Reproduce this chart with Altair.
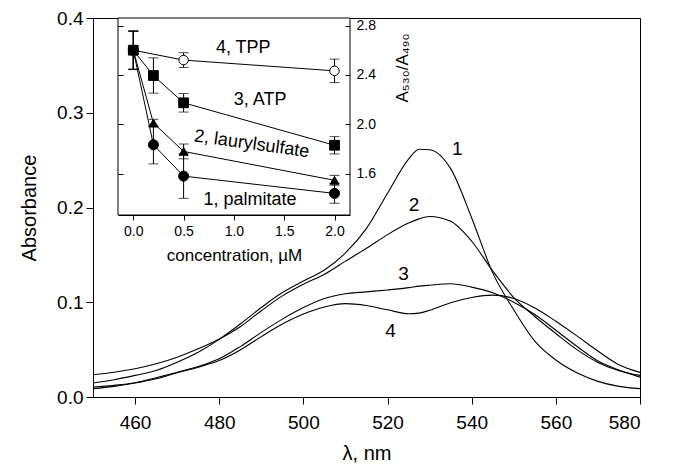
import altair as alt
import pandas as pd

FONT = "Liberation Sans"

# ---------------- main spectra ----------------
wavelength = [450, 455, 460, 465, 470, 475, 480, 485, 490, 495, 500, 505, 510, 515,
              520, 525, 527.5, 530, 535, 540, 545, 550, 555, 560, 565, 570, 575, 580]
curve1 = [0.0147, 0.0182, 0.0228, 0.028, 0.0367, 0.0472, 0.0608, 0.077, 0.0944, 0.1102,
          0.1224, 0.134, 0.152, 0.178, 0.215, 0.251, 0.2615, 0.261, 0.241, 0.189, 0.131,
          0.092, 0.059, 0.039, 0.0255, 0.0165, 0.0112, 0.0088]
curve2 = [0.0235, 0.0262, 0.0298, 0.035, 0.042, 0.0508, 0.0612, 0.0742, 0.091, 0.1067,
          0.119, 0.1295, 0.1434, 0.157, 0.1714, 0.1836, 0.188, 0.1905, 0.1854, 0.1644,
          0.133, 0.105, 0.085, 0.067, 0.050, 0.0365, 0.0277, 0.0228]
curve3 = [0.0105, 0.0123, 0.0151, 0.0203, 0.0262, 0.0322, 0.0403, 0.0532, 0.0682, 0.0822,
          0.0944, 0.104, 0.109, 0.111, 0.113, 0.1154, 0.117, 0.118, 0.1196, 0.116, 0.110,
          0.100, 0.087, 0.0705, 0.0535, 0.038, 0.0285, 0.021]
curve4 = [0.0088, 0.0112, 0.0147, 0.0193, 0.0256, 0.0315, 0.0385, 0.0497, 0.0637, 0.077,
          0.0875, 0.095, 0.0985, 0.0965, 0.092, 0.0878, 0.0885, 0.0915, 0.0995, 0.105,
          0.1075, 0.104, 0.094, 0.080, 0.0645, 0.0485, 0.034, 0.026]

curve_names = ["1", "2", "3", "4"]
label_wl = [536.6, 526.3, 523.8, 520.7]
label_abs = [0.262, 0.203, 0.1295, 0.070]

x_ticks = [460, 480, 500, 520, 540, 560, 580]
y_ticks = [0.0, 0.1, 0.2, 0.3, 0.4]

# ---------------- inset ----------------
conc = [0, 0.2, 0.5, 2.0]
palmitate = [2.60, 1.834, 1.58, 1.44]
palmitate_err = [0.155, 0.155, 0.18, 0.08]
lauryl = [2.60, 2.01, 1.78, 1.546]
lauryl_err = [0.155, 0.03, 0.06, 0.04]
atp = [2.60, 2.395, 2.174, 1.83]
atp_err = [0.155, 0.143, 0.075, 0.07]
tpp_conc = [0, 0.5, 2.0]
tpp = [2.60, 2.52, 2.433]
tpp_err = [0.155, 0.06, 0.095]

inset_names = ["4, TPP", "3, ATP", "2, laurylsulfate", "1, palmitate"]
inset_label_x = [1.093, 1.26, 1.177, 1.16]
inset_label_y = [2.619, 2.194, 1.838, 1.39]
inset_label_angle = [0, 0, 8, 0]

inset_x_ticks = [0.0, 0.5, 1.0, 1.5, 2.0]
inset_y_ticks = [1.6, 2.0, 2.4, 2.8]
inset_x_dom = [-0.152, 2.154]
inset_y_dom = [1.265, 2.861]

# ---------------- layout ----------------
W, H = 547, 379
INSET_L, INSET_R, INSET_B = 25, 257, 197

# tables
spec_rows = []
for name, vals in zip(curve_names, [curve1, curve2, curve3, curve4]):
    for w, a in zip(wavelength, vals):
        spec_rows.append({"wl": w, "A": a, "curve": name})
spec_df = pd.DataFrame(spec_rows)
lab_df = pd.DataFrame({"wl": label_wl, "A": label_abs, "t": curve_names})

pts_rows = []
series = [("TPP", tpp_conc, tpp, tpp_err), ("palmitate", conc, palmitate, palmitate_err),
          ("lauryl", conc, lauryl, lauryl_err), ("ATP", conc, atp, atp_err)]
for order, (s, cs, vs, es) in enumerate(series):
    for c, v, e in zip(cs, vs, es):
        pts_rows.append({"c": c, "r": v, "lo": v - e, "hi": v + e, "s": s, "o": order})
pts_df = pd.DataFrame(pts_rows)
ilab_df = pd.DataFrame({"c": inset_label_x, "r": inset_label_y, "t": inset_names,
                        "ang": inset_label_angle})
frame_df = pd.DataFrame({"x0": [inset_x_dom[0]], "x1": [inset_x_dom[1]],
                         "y0": [inset_y_dom[0]], "y1": [inset_y_dom[1]]})
tick_df = pd.DataFrame({"r": inset_y_ticks})

xs = alt.Scale(domain=[450, 580], nice=False, zero=False)
ys = alt.Scale(domain=[0, 0.4], nice=False, zero=False)
ixs = alt.Scale(domain=inset_x_dom, range=[INSET_L, INSET_R], nice=False, zero=False)
iys = alt.Scale(domain=inset_y_dom, range=[INSET_B, 0], nice=False, zero=False)

ax_common = dict(grid=False, domainColor="black", tickColor="black", labelColor="black",
                 titleColor="black", labelFont=FONT, titleFont=FONT, titleFontWeight="normal")

spectra = alt.Chart(spec_df).mark_line(color="black", strokeWidth=1.1, interpolate="monotone").encode(
    x=alt.X("wl:Q", scale=xs, axis=alt.Axis(orient="bottom", values=x_ticks, format="d", title="λ, nm",
                                            tickSize=7, labelPadding=9, labelFontSize=19,
                                            titleFontSize=20, titlePadding=11, **ax_common)),
    y=alt.Y("A:Q", scale=ys, axis=alt.Axis(orient="left", values=y_ticks, format=".1f", title="Absorbance",
                                           tickSize=7, labelPadding=3, labelFontSize=19,
                                           titleFontSize=20, titlePadding=17, **ax_common)),
    detail="curve:N",
)
curve_labels = alt.Chart(lab_df).mark_text(font=FONT, fontSize=19, color="black").encode(
    x=alt.X("wl:Q", scale=xs, axis=None),
    y=alt.Y("A:Q", scale=ys, axis=None),
    text="t:N",
)

frame = alt.Chart(frame_df).mark_rect(fill="white", stroke="black", strokeWidth=1).encode(
    x=alt.X("x0:Q", scale=ixs, axis=alt.Axis(orient="bottom", offset=-(H - INSET_B), values=inset_x_ticks,
                                            format=".1f", title="concentration, µM", tickSize=5,
                                            labelPadding=4, labelFontSize=14, titleFontSize=17,
                                            titlePadding=9, zindex=1, **ax_common)),
    x2="x1:Q",
    y=alt.Y("y0:Q", scale=iys, axis=alt.Axis(orient="right", offset=-(W - INSET_L), values=inset_y_ticks,
                                            labels=False, domain=False, title=None, tickSize=5,
                                            zindex=1, **ax_common)),
    y2="y1:Q",
)
right_ticks = alt.Chart(tick_df).mark_point(opacity=0).encode(
    x=alt.X("r:Q", scale=ixs, axis=None),
    y=alt.Y("r:Q", scale=iys, axis=alt.Axis(orient="left", offset=-INSET_R, values=inset_y_ticks,
                                           labels=False, domain=False, title=None, tickSize=5,
                                           zindex=1, **ax_common)),
)
right_labels = alt.Chart(tick_df).mark_point(opacity=0).encode(
    x=alt.X("r:Q", scale=ixs, axis=None),
    y=alt.Y("r:Q", scale=iys, axis=alt.Axis(orient="right", offset=-(W - INSET_R), values=inset_y_ticks,
                                           format=".1f", domain=False, ticks=False, tickSize=0,
                                           labelPadding=6, labelFontSize=14, title=None,
                                           zindex=1, **ax_common)),
)

ilines = alt.Chart(pts_df).mark_line(color="black", strokeWidth=1).encode(
    x=alt.X("c:Q", scale=ixs, axis=None),
    y=alt.Y("r:Q", scale=iys, axis=None),
    detail="s:N",
)
ebars = alt.Chart(pts_df).mark_rule(color="black", strokeWidth=1).encode(
    x=alt.X("c:Q", scale=ixs, axis=None),
    y=alt.Y("lo:Q", scale=iys, axis=None),
    y2="hi:Q",
)
caps_lo = alt.Chart(pts_df).mark_tick(color="black", orient="horizontal", size=10, thickness=1).encode(
    x=alt.X("c:Q", scale=ixs, axis=None),
    y=alt.Y("lo:Q", scale=iys, axis=None),
)
caps_hi = alt.Chart(pts_df).mark_tick(color="black", orient="horizontal", size=10, thickness=1).encode(
    x=alt.X("c:Q", scale=ixs, axis=None),
    y=alt.Y("hi:Q", scale=iys, axis=None),
)


def pts(series_name, shape, size, fill):
    return alt.Chart(pts_df).transform_filter(alt.datum.s == series_name).mark_point(
        shape=shape, size=size, filled=True, fill=fill, stroke="black", strokeWidth=1, opacity=1
    ).encode(
        x=alt.X("c:Q", scale=ixs, axis=None),
        y=alt.Y("r:Q", scale=iys, axis=None),
    )


p_tpp = pts("TPP", "circle", 90, "white")
p_pal = pts("palmitate", "circle", 100, "black")
p_lau = pts("lauryl", "triangle-up", 80, "black")
p_atp = pts("ATP", "square", 95, "black")

ilabels = alt.Chart(ilab_df).mark_text(font=FONT, fontSize=18, color="black").encode(
    x=alt.X("c:Q", scale=ixs, axis=None),
    y=alt.Y("r:Q", scale=iys, axis=None),
    text="t:N",
    angle=alt.Angle("ang:Q", scale=None),
)

ratio_title = alt.Chart(pd.DataFrame({"t": ["A₅₃₀/A₄₉₀"]})).mark_text(
    font=FONT, fontSize=17, color="black", angle=270
).encode(x=alt.value(310), y=alt.value(50), text="t:N")

chart = alt.layer(
    spectra, curve_labels, frame, right_ticks, right_labels, ilines, ebars, caps_lo, caps_hi,
    p_tpp, p_pal, p_lau, p_atp, ilabels, ratio_title
).resolve_scale(x="independent", y="independent").resolve_axis(x="independent", y="independent").properties(
    width=W, height=H,
    autosize=alt.AutoSizeParams(type="none"),
    padding={"left": 85, "top": 10, "right": 25, "bottom": 71},
    background="white",
).configure_view(stroke="black", strokeWidth=1)

chart.save("out.html", embed_options={"renderer": "svg", "actions": False})
